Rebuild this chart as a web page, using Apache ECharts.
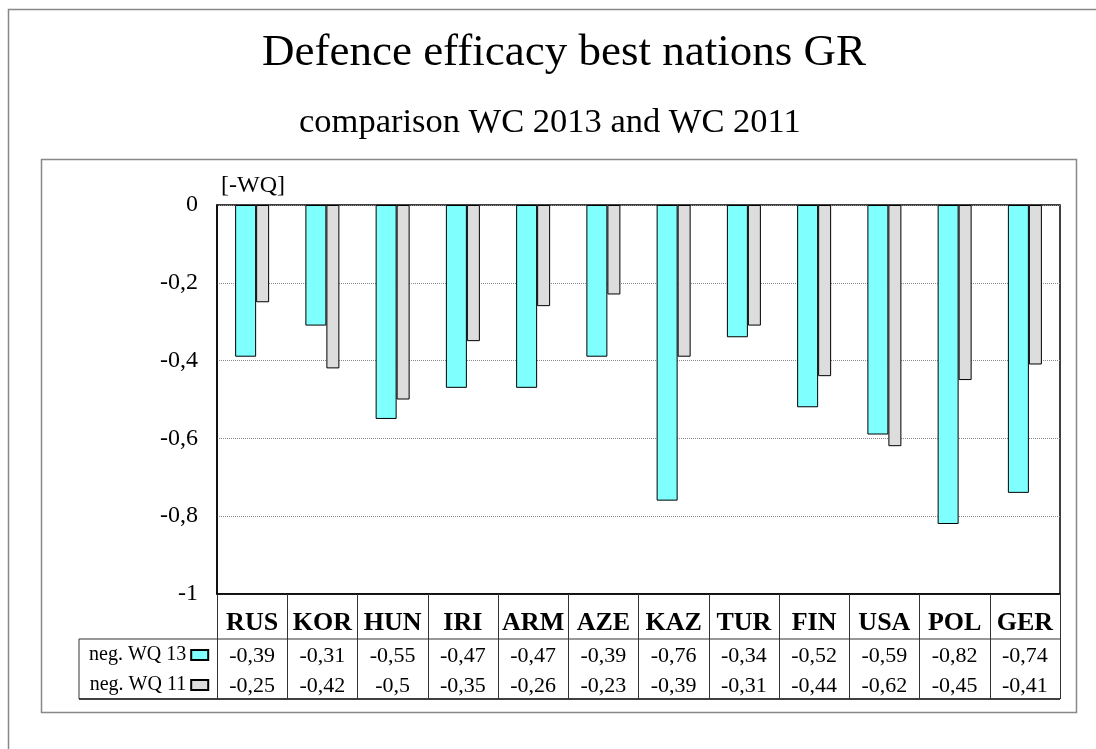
<!DOCTYPE html>
<html>
<head>
<meta charset="utf-8">
<script src="https://cdn.jsdelivr.net/npm/echarts@6/dist/echarts.min.js"></script>
<style>
  html, body { margin: 0; padding: 0; background: #fff; }
  #chart { width: 1096px; height: 749px; }
</style>
</head>
<body>
<div id="chart"></div>
<script>
const nations = ['RUS', 'KOR', 'HUN', 'IRI', 'ARM', 'AZE', 'KAZ', 'TUR', 'FIN', 'USA', 'POL', 'GER']
const wq13 = [-0.39, -0.31, -0.55, -0.47, -0.47, -0.39, -0.76, -0.34, -0.52, -0.59, -0.82, -0.74]
const wq11 = [-0.25, -0.42, -0.5, -0.35, -0.26, -0.23, -0.39, -0.31, -0.44, -0.62, -0.45, -0.41]
const seriesNames = ['neg. WQ 13', 'neg. WQ 11']

const serif = 'Liberation Serif, Times New Roman, serif'
const comma = v => String(Number(v.toFixed(2))).replace('.', ',')

// plot area in px, data table hangs below it
const G = { left: 217, top: 205, right: 1060, bottom: 594 }
const rowSep = 639, tableBottom = 699, tableLeft = 79

const chart = echarts.init(document.getElementById('chart'))

chart.setOption({
  animation: false,
  title: [
    { text: 'Defence efficacy best nations GR', left: 262, top: 31, padding: 0,
      textStyle: { fontFamily: serif, fontSize: 45, fontWeight: 'normal', color: '#000' } },
    { text: 'comparison WC 2013 and WC 2011', left: 299, top: 105, padding: 0,
      textStyle: { fontFamily: serif, fontSize: 34.5, fontWeight: 'normal', color: '#000' } }
  ],
  legend: {
    data: seriesNames, orient: 'vertical', align: 'right',
    left: 89, top: 645, padding: 0, itemGap: 10,
    itemWidth: 17, itemHeight: 10, icon: 'rect',
    textStyle: { fontFamily: serif, fontSize: 20, color: '#000' }
  },
  grid: {
    left: G.left, top: G.top, right: 1096 - G.right, bottom: 749 - G.bottom,
    show: true, borderColor: '#000', borderWidth: 1.5, backgroundColor: 'transparent'
  },
  xAxis: {
    type: 'category', data: nations, position: 'bottom', boundaryGap: true,
    axisLine: { show: true, onZero: false, lineStyle: { color: '#000', width: 1.5 } },
    axisTick: { show: true, interval: 0, length: tableBottom - G.bottom, lineStyle: { color: '#333', width: 1 } },
    axisLabel: {
      interval: 0, margin: 11, color: '#000',
      formatter: (v, i) => '{c|' + v + '}\n{v|' + comma(wq13[i]) + '}\n{v|' + comma(wq11[i]) + '}',
      rich: {
        c: { fontFamily: serif, fontSize: 26, fontWeight: 'bold', lineHeight: 36, color: '#000' },
        v: { fontFamily: serif, fontSize: 22, lineHeight: 30, color: '#000' }
      }
    }
  },
  yAxis: {
    type: 'value', min: -1, max: 0, interval: 0.2,
    name: '[-WQ]', nameLocation: 'end', nameGap: 7,
    nameTextStyle: { fontFamily: serif, fontSize: 24, color: '#000', align: 'left', padding: [0, 0, 0, 4] },
    axisLine: { show: true, lineStyle: { color: '#000', width: 1.5 } },
    axisTick: { show: false },
    axisLabel: { margin: 19, fontFamily: serif, fontSize: 24, color: '#000',
      formatter: v => comma(v) },
    splitLine: { lineStyle: { color: '#888', type: 'dotted', width: 1 } }
  },
  series: [
    { name: seriesNames[0], type: 'bar', data: wq13, barWidth: 21, barGap: '0%',
      itemStyle: { color: '#80FFFF', borderColor: '#000', borderWidth: 1 } },
    { name: seriesNames[1], type: 'bar', data: wq11, barWidth: 13, barGap: '0%',
      itemStyle: { color: '#DDDDDD', borderColor: '#000', borderWidth: 1 } }
  ],
  graphic: [
    { type: 'rect', silent: true, shape: { x: 8.5, y: 9.5, width: 1200, height: 1000 },
      style: { fill: 'none', stroke: '#888', lineWidth: 1.5 } },
    { type: 'rect', silent: true, shape: { x: 41.5, y: 159.5, width: 1035, height: 553 },
      style: { fill: 'none', stroke: '#888', lineWidth: 1.5 } },
    { type: 'line', silent: true, shape: { x1: tableLeft, y1: rowSep, x2: G.right, y2: rowSep },
      style: { stroke: '#333', lineWidth: 1 } },
    { type: 'line', silent: true, shape: { x1: tableLeft, y1: tableBottom, x2: G.right, y2: tableBottom },
      style: { stroke: '#000', lineWidth: 1.5 } },
    { type: 'line', silent: true, shape: { x1: tableLeft, y1: rowSep, x2: tableLeft, y2: tableBottom },
      style: { stroke: '#333', lineWidth: 1 } }
  ]
})
</script>
</body>
</html>
